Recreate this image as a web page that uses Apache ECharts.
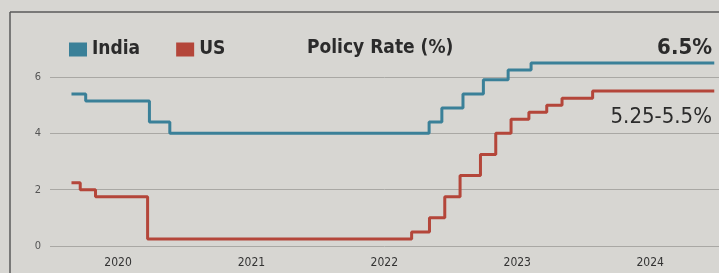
<!DOCTYPE html>
<html>
<head>
<meta charset="utf-8">
<script src="https://cdn.jsdelivr.net/npm/echarts@6/dist/echarts.min.js"></script>
<style>
  html, body { margin: 0; padding: 0; background: #d7d6d2; }
  #chart { width: 719px; height: 273px; }
</style>
</head>
<body>
<div id="chart"></div>
<script>
// policy rate changes (date of change, new rate)
const indiaDates = ['2019-08-26', '2019-10-04', '2020-03-27', '2020-05-22', '2022-05-04', '2022-06-08',
  '2022-08-05', '2022-09-30', '2022-12-07', '2023-02-08', '2024-06-25'];
const indiaRates = [5.4, 5.15, 4.4, 4.0, 4.4, 4.9, 5.4, 5.9, 6.25, 6.5, 6.5];

// US fed funds, upper bound of target range
const usDates = ['2019-08-26', '2019-09-19', '2019-10-31', '2020-03-22', '2022-03-17',
  '2022-05-05', '2022-06-16', '2022-07-28', '2022-09-22', '2022-11-03', '2022-12-15',
  '2023-02-02', '2023-03-23', '2023-05-04', '2023-07-27', '2024-06-25'];
const usRates = [2.25, 2.0, 1.75, 0.25, 0.5, 1.0, 1.75, 2.5, 3.25, 4.0, 4.5,
  4.75, 5.0, 5.25, 5.5, 5.5];

const seriesNames = ['India', 'US'];
const yearLabels = ['2020', '2021', '2022', '2023', '2024'];
const endNotes = ['6.5%', '5.25-5.5%'];

const font = "'Liberation Sans Narrow', 'DejaVu Sans Condensed', 'Liberation Sans', sans-serif";
const teal = '#3a8098';
const red = '#b4463a';

const chart = echarts.init(document.getElementById('chart'));

function pairs(dates, vals) {
  return dates.map((d, i) => [d, vals[i]]);
}

chart.setOption({
  backgroundColor: '#d7d6d2',
  animation: false,
  textStyle: { fontFamily: font },
  title: {
    text: 'Policy Rate (%)',
    left: 302,
    top: 34,
    textStyle: { fontFamily: font, fontSize: 19, fontWeight: 'bold', color: '#2b2b2b' }
  },
  legend: {
    data: seriesNames,
    left: 64,
    top: 35,
    icon: 'rect',
    itemWidth: 18,
    itemHeight: 14,
    itemGap: 36,
    textStyle: { fontFamily: font, fontSize: 19, fontWeight: 'bold', color: '#2b2b2b' }
  },
  grid: { left: 50, right: 0, top: 77, bottom: 27 },
  xAxis: {
    type: 'time',
    min: '2019-06-28',
    max: '2024-07-08',
    axisLine: { show: false },
    axisTick: { show: false },
    splitLine: { show: false },
    axisLabel: {
      margin: 11,
      fontSize: 12,
      color: '#333',
      fontFamily: font,
      formatter: function (v) {
        const d = new Date(v);
        const y = String(d.getFullYear());
        return (d.getMonth() === 0 && d.getDate() === 1 && yearLabels.includes(y)) ? y : '';
      }
    }
  },
  yAxis: {
    type: 'value',
    min: 0,
    max: 6,
    interval: 2,
    axisLine: { show: false },
    axisTick: { show: false },
    axisLabel: { margin: 9, fontSize: 11, color: '#555', fontFamily: font },
    splitLine: { lineStyle: { color: '#a9a8a4', width: 1 } }
  },
  graphic: [
    { type: 'line', shape: { x1: 10, y1: 12, x2: 719, y2: 12 }, style: { stroke: '#5a5a5a', lineWidth: 1.5 } },
    { type: 'line', shape: { x1: 10, y1: 12, x2: 10, y2: 273 }, style: { stroke: '#5a5a5a', lineWidth: 1.5 } },
    { type: 'text', right: 7, top: 37, style: { text: endNotes[0], font: 'bold 22px ' + font, fill: '#2b2b2b' } },
    { type: 'text', right: 7, top: 106, style: { text: endNotes[1], font: '22px ' + font, fill: '#2b2b2b' } }
  ],
  series: [
    {
      name: seriesNames[0],
      type: 'line',
      step: 'end',
      clip: false,
      showSymbol: false,
      color: teal,
      lineStyle: { color: teal, width: 3 },
      data: pairs(indiaDates, indiaRates)
    },
    {
      name: seriesNames[1],
      type: 'line',
      step: 'end',
      clip: false,
      showSymbol: false,
      color: red,
      lineStyle: { color: red, width: 3 },
      data: pairs(usDates, usRates)
    }
  ]
});
</script>
</body>
</html>
